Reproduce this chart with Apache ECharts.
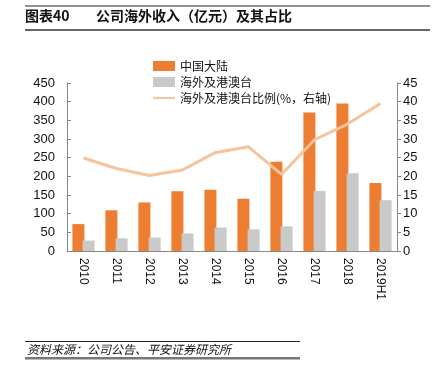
<!DOCTYPE html>
<html><head><meta charset="utf-8">
<script src="https://cdn.jsdelivr.net/npm/echarts@6/dist/echarts.min.js"></script>
<style>html,body{margin:0;padding:0;background:#fff}#c{width:439px;height:379px}</style>
</head><body><div id="c"></div>
<script>
const categories = ['2010','2011','2012','2013','2014','2015','2016','2017','2018','2019H1'];
const mainland = [72,109,130,160,164,140,239,371,395,182];
const overseas = [28,34,36,47,63,58,66,161,208,136];
const ratio = [24.9,22.1,20.2,21.7,26.4,27.9,20.5,29.8,34.0,39.5];
const leftTicks = {min:0,max:450,interval:50};
const rightTicks = {min:0,max:45,interval:5};

const chart = echarts.init(document.getElementById('c'), null, {renderer:'canvas'});
const font = 'Liberation Sans, Arial, sans-serif';
const cjk = '"Noto Sans CJK SC", sans-serif';
chart.setOption({
  animation:false,
  textStyle:{fontFamily:font},
  grid:{left:67,right:42,top:83,bottom:128,containLabel:false},
  legend:{
    left:148, top:55, orient:'vertical', itemGap:4, itemWidth:22, itemHeight:10,
    textStyle:{fontFamily:cjk,fontSize:12,color:'#111'},
    data:[
      {name:'中国大陆',icon:'rect'},
      {name:'海外及港澳台',icon:'rect'},
      {name:'海外及港澳台比例(%，右轴)',icon:'path://M0,4L22,4L22,6L0,6Z'}
    ]
  },
  xAxis:{
    type:'category', data:categories,
    axisLine:{lineStyle:{color:'#888'}},
    axisTick:{inside:true,length:4,lineStyle:{color:'#888'}},
    axisLabel:{rotate:-90,color:'#111',fontSize:12,margin:7,fontFamily:font}
  },
  yAxis:[
    {type:'value',min:leftTicks.min,max:leftTicks.max,interval:leftTicks.interval,
     splitLine:{show:false},
     axisLine:{show:true,lineStyle:{color:'#888'}},
     axisTick:{show:true,inside:true,length:4,lineStyle:{color:'#888'}},
     axisLabel:{color:'#111',fontSize:13,margin:12,fontFamily:font}},
    {type:'value',min:rightTicks.min,max:rightTicks.max,interval:rightTicks.interval,
     splitLine:{show:false},
     axisLine:{show:true,lineStyle:{color:'#888'}},
     axisTick:{show:true,length:4,lineStyle:{color:'#888'}},
     axisLabel:{color:'#111',fontSize:13,margin:6,fontFamily:font}}
  ],
  series:[
    {name:'中国大陆',type:'bar',data:mainland,barWidth:12,barGap:'-15%',
     itemStyle:{color:'#ED7D31'}},
    {name:'海外及港澳台',type:'bar',data:overseas,barWidth:12,
     itemStyle:{color:'#C9C9C9'}},
    {name:'海外及港澳台比例(%，右轴)',type:'line',yAxisIndex:1,data:ratio,
     symbol:'none',lineStyle:{color:'#F8C29A',width:3},itemStyle:{color:'#F8C29A'}}
  ],
  graphic:[
    {type:'rect',shape:{x:25,y:5.5,width:405,height:1},style:{fill:'#222'}},
    {type:'text',left:25,top:9,style:{text:'图表40',font:'bold 14px "Noto Sans CJK SC", sans-serif',fill:'#111'}},
    {type:'text',left:96,top:9,style:{text:'公司海外收入（亿元）及其占比',font:'bold 14px "Noto Sans CJK SC", sans-serif',fill:'#111'}},
    {type:'rect',shape:{x:25,y:29,width:405,height:2},style:{fill:'#666'}},
    {type:'rect',shape:{x:25,y:341,width:275,height:1},style:{fill:'#222'}},
    {type:'text',left:27,top:343,style:{text:'资料来源：公司公告、平安证券研究所',font:'italic 12px "Noto Sans CJK SC", sans-serif',fill:'#111'}},
    {type:'rect',shape:{x:25,y:357,width:275,height:2.5},style:{fill:'#777'}}
  ]
});
</script></body></html>
